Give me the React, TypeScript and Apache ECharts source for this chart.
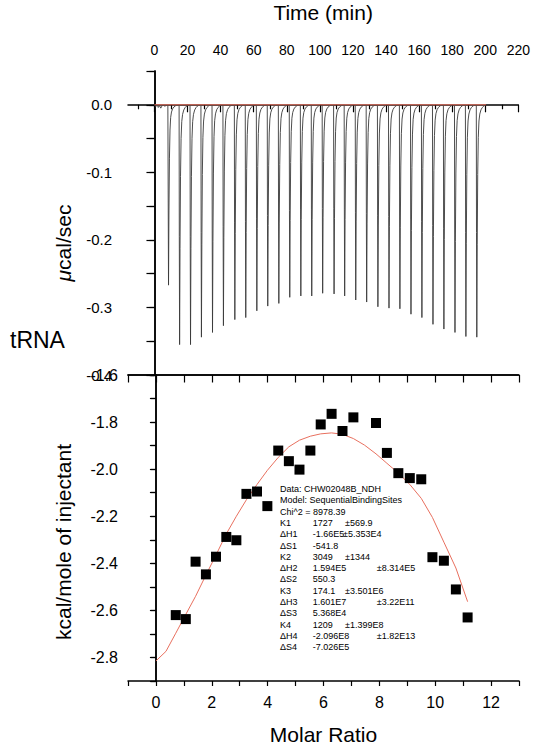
import React, { useEffect, useRef } from 'react';
import * as echarts from 'echarts';

// ---------- data ----------
// Top panel (thermogram): injection times (min) and peak minima (µcal/sec)
const injectionTimes = [
  8.2, 14.9, 21.5, 28.1, 34.8, 41.4, 48.3, 54.9, 61.6, 68.2, 74.9, 81.5, 88.2, 94.8, 101.4,
  108.3, 114.7, 121.4, 128.0, 134.8, 141.5, 148.1, 154.8, 161.4, 168.1, 174.7, 181.4, 188.0, 194.6,
];
const peakDepths = [
  -0.267, -0.355, -0.355, -0.344, -0.337, -0.327, -0.318, -0.315, -0.305, -0.298, -0.294, -0.285,
  -0.283, -0.283, -0.279, -0.28, -0.283, -0.289, -0.292, -0.299, -0.301, -0.302, -0.31, -0.315,
  -0.325, -0.332, -0.337, -0.343, -0.344,
];
// shape of one injection peak: minutes after injection, fraction of peak depth
const peakShapeDt = [0, 0.12, 0.3, 0.55, 0.85, 1.2, 1.6, 2.1, 2.8, 3.6, 4.6, 5.8];
const peakShapeFrac = [0, 0.55, 1, 0.6, 0.3, 0.14, 0.07, 0.04, 0.022, 0.012, 0.005, 0];
// baseline noise before the first injection
const preInjectionTrace: [number, number][] = [
  [0, 0], [0.8, -0.003], [1.5, 0.001], [2.3, -0.004], [3.0, -0.001], [3.8, -0.005],
  [4.5, -0.002], [5.3, 0.0], [6.2, -0.002], [7.2, -0.001], [8.1, 0],
];
const traceEnd: [number, number] = [200.5, 0];
const baselineFit: [number, number][] = [[0, 0], [200.5, 0]];
const timeTickLabels = [0, 20, 40, 60, 80, 100, 120, 140, 160, 180, 200, 220];
const timeMinorTicks = [-10, 10, 30, 50, 70, 90, 110, 130, 150, 170, 190, 210];

// Bottom panel: integrated heats
const molarRatio = [
  0.71, 1.07, 1.42, 1.79, 2.15, 2.52, 2.88, 3.24, 3.62, 3.99, 4.38, 4.76, 5.14, 5.53, 5.9, 6.29,
  6.68, 7.07, 7.88, 8.27, 8.68, 9.09, 9.5, 9.9, 10.31, 10.74, 11.16,
];
const heat = [
  -2.62, -2.637, -2.393, -2.447, -2.372, -2.288, -2.302, -2.105, -2.095, -2.157, -1.921, -1.966,
  -2.002, -1.921, -1.81, -1.765, -1.838, -1.78, -1.804, -1.931, -2.017, -2.038, -2.043, -2.374,
  -2.389, -2.511, -2.63,
];
const fitMolar = [
  0, 0.36, 0.71, 1.07, 1.42, 1.79, 2.15, 2.52, 2.88, 3.24, 3.62, 3.99, 4.38, 4.76, 5.14, 5.53, 5.9,
  6.29, 6.68, 7.07, 7.47, 7.88, 8.27, 8.68, 9.09, 9.5, 9.9, 10.31, 10.74, 11.16,
];
const fitHeat = [
  -2.815, -2.774, -2.697, -2.617, -2.54, -2.45, -2.365, -2.275, -2.2, -2.13, -2.065, -2.005,
  -1.95, -1.905, -1.877, -1.86, -1.85, -1.846, -1.852, -1.87, -1.898, -1.935, -1.975, -2.017,
  -2.065, -2.124, -2.205, -2.31, -2.42, -2.563,
];

// Fit report
const reportHeader = ['Data: CHW02048B_NDH', 'Model: SequentialBindingSites', 'Chi^2 = 8978.39'];
const paramNames = ['K1', 'ΔH1', 'ΔS1', 'K2', 'ΔH2', 'ΔS2', 'K3', 'ΔH3', 'ΔS3', 'K4', 'ΔH4', 'ΔS4'];
const paramValues = [
  '1727', '-1.66E5', '-541.8', '3049', '1.594E5', '550.3', '174.1', '1.601E7', '5.368E4', '1209',
  '-2.096E8', '-7.026E5',
];
const paramErrors = [
  '±569.9', '±5.353E4', '', '±1344', '±8.314E5', '', '±3.501E6', '±3.22E11', '', '±1.399E8',
  '±1.82E13', '',
];

// ---------- layout ----------
const FONT = "'Liberation Sans', Arial, Helvetica, sans-serif";
const L = 128;
const R = 519;
const T0 = 71;
const MID = 375;
const B = 681;
const RED = '#e8705f';
const errColX = [345, 343, 345, 345, 376.7, 345, 345, 376.7, 345, 345, 376.7, 345];

function buildOption(): any {
  const thermo: number[][] = preInjectionTrace.map((p) => [p[0], p[1]]);
  injectionTimes.forEach((t, i) => {
    peakShapeDt.forEach((dt, j) => thermo.push([t + dt, peakDepths[i] * peakShapeFrac[j]]));
  });
  thermo.push([traceEnd[0], traceEnd[1]]);

  const scatter = molarRatio.map((m, i) => [m, heat[i]]);
  const fit = fitMolar.map((m, i) => [m, fitHeat[i]]);

  const axisLine = { show: true, lineStyle: { color: '#000', width: 1.5 } };
  const tickStyle = { color: '#000', width: 1.2 };
  const rs = { fontSize: 9, fontFamily: FONT, fill: '#000', verticalAlign: 'middle' };

  const graphics: any[] = [
    {
      type: 'text', x: 10, y: 340,
      style: { text: 'tRNA', font: `23px ${FONT}`, fill: '#000', align: 'left', verticalAlign: 'middle' },
    },
    {
      type: 'text', x: 63, y: 243, rotation: Math.PI / 2,
      style: {
        text: '{m|μ}cal/sec', fontSize: 21, fontFamily: FONT, fill: '#000', align: 'center', verticalAlign: 'middle',
        rich: { m: { fontStyle: 'italic', fontSize: 21, fontFamily: FONT, fill: '#000' } },
      },
    },
    {
      type: 'text', x: 63, y: 542, rotation: Math.PI / 2,
      style: { text: 'kcal/mole of injectant', font: `21px ${FONT}`, fill: '#000', align: 'center', verticalAlign: 'middle' },
    },
  ];
  const lineH = 11.3;
  const y0 = 489;
  reportHeader.forEach((s, i) => {
    graphics.push({ type: 'text', x: 280, y: y0 + i * lineH, style: { ...rs, text: s } });
  });
  paramNames.forEach((n, i) => {
    const y = y0 + (i + 3) * lineH;
    graphics.push({ type: 'text', x: 280, y, style: { ...rs, text: n } });
    graphics.push({ type: 'text', x: 312.7, y, style: { ...rs, text: paramValues[i] } });
    if (paramErrors[i]) {
      graphics.push({ type: 'text', x: errColX[i], y, style: { ...rs, text: paramErrors[i] } });
    }
  });

  return {
    animation: false,
    backgroundColor: '#fff',
    grid: [
      { left: L, top: T0, width: R - L, height: MID - T0 },
      { left: L, top: MID, width: R - L, height: B - MID },
    ],
    xAxis: [
      {
        type: 'value', gridIndex: 0, position: 'top', min: -16, max: 220,
        axisLine,
        axisTick: { show: true, inside: true, length: 7.5, customValues: timeTickLabels, lineStyle: tickStyle },
        axisLabel: { show: true, customValues: timeTickLabels, fontSize: 14, fontFamily: FONT, color: '#000', margin: 14 },
        splitLine: { show: false },
        name: 'Time (min)', nameLocation: 'middle', nameGap: 48,
        nameTextStyle: { fontSize: 21, fontFamily: FONT, color: '#000' },
      },
      {
        type: 'value', gridIndex: 0, position: 'top', min: -16, max: 220,
        axisLine: { show: false },
        axisTick: { show: true, inside: true, length: 4.5, customValues: timeMinorTicks, lineStyle: tickStyle },
        axisLabel: { show: false },
        splitLine: { show: false },
      },
      {
        type: 'value', gridIndex: 0, position: 'bottom', min: -16, max: 220,
        axisLine, axisTick: { show: false }, axisLabel: { show: false }, splitLine: { show: false },
      },
      {
        type: 'value', gridIndex: 1, position: 'bottom', min: -1, max: 13, interval: 1,
        axisLine,
        axisTick: { show: true, inside: false, length: 5, lineStyle: tickStyle },
        axisLabel: {
          show: true, fontSize: 16, fontFamily: FONT, color: '#000', margin: 13, showMinLabel: true, showMaxLabel: true,
          formatter: (v: number) => {
            const r = Math.round(v);
            return r >= 0 && r <= 12 && r % 2 === 0 ? String(r) : '';
          },
        },
        splitLine: { show: false },
        name: 'Molar Ratio', nameLocation: 'middle', nameGap: 43,
        nameTextStyle: { fontSize: 21, fontFamily: FONT, color: '#000' },
      },
      {
        type: 'value', gridIndex: 1, position: 'top', min: -1, max: 13, interval: 1,
        axisLine,
        axisTick: { show: true, inside: true, length: 7.5, lineStyle: tickStyle },
        axisLabel: { show: false }, splitLine: { show: false },
      },
    ],
    yAxis: [
      {
        type: 'value', gridIndex: 0, position: 'left', min: -0.4, max: 0.05, interval: 0.05,
        axisLine,
        axisTick: { show: true, inside: false, length: 5, lineStyle: tickStyle },
        axisLabel: {
          show: true, fontSize: 15, fontFamily: FONT, color: '#000', margin: 16, showMinLabel: true, showMaxLabel: true,
          formatter: (v: number) => {
            const r = Math.round(v * 20);
            return r % 2 === 0 ? (r / 20).toFixed(1).replace('-0.0', '0.0') : '';
          },
        },
        splitLine: { show: false },
      },
      {
        type: 'value', gridIndex: 0, position: 'right', min: -0.4, max: 0.05, interval: 0.05,
        axisLine,
        axisTick: { show: true, inside: true, length: 8, lineStyle: tickStyle },
        axisLabel: { show: false }, splitLine: { show: false },
      },
      {
        type: 'value', gridIndex: 1, position: 'left', min: -2.9, max: -1.6, interval: 0.1,
        axisLine,
        axisTick: { show: true, inside: false, length: 5, lineStyle: tickStyle },
        axisLabel: {
          show: true, fontSize: 16, fontFamily: FONT, color: '#000', margin: 10, showMinLabel: true, showMaxLabel: true,
          formatter: (v: number) => {
            const r = Math.round(v * 10);
            return r % 2 === 0 ? (r / 10).toFixed(1) : '';
          },
        },
        splitLine: { show: false },
      },
      {
        type: 'value', gridIndex: 1, position: 'right', min: -2.9, max: -1.6, interval: 0.1,
        axisLine,
        axisTick: { show: true, inside: true, length: 6, lineStyle: tickStyle },
        axisLabel: { show: false }, splitLine: { show: false },
      },
    ],
    series: [
      {
        type: 'line', xAxisIndex: 0, yAxisIndex: 0, data: thermo, showSymbol: false, symbol: 'none',
        lineStyle: { color: '#3a3a3a', width: 0.9 }, z: 2,
      },
      {
        type: 'line', xAxisIndex: 0, yAxisIndex: 0, data: baselineFit, showSymbol: false, symbol: 'none',
        lineStyle: { color: RED, width: 1 }, z: 3,
      },
      {
        type: 'line', xAxisIndex: 3, yAxisIndex: 2, data: fit, showSymbol: false, symbol: 'none',
        lineStyle: { color: RED, width: 1 }, z: 2,
      },
      {
        type: 'scatter', xAxisIndex: 3, yAxisIndex: 2, data: scatter, symbol: 'rect', symbolSize: 10,
        itemStyle: { color: '#000', opacity: 1 }, z: 3,
      },
    ],
    graphic: graphics,
  };
}

export default function App() {
  const ref = useRef<HTMLDivElement>(null);
  useEffect(() => {
    if (!ref.current) return;
    const chart = echarts.init(ref.current, undefined, { renderer: 'svg' });
    chart.setOption(buildOption());
    return () => chart.dispose();
  }, []);
  return (
    <div
      ref={ref}
      style={{ position: 'absolute', left: 0, top: 0, width: 533, height: 749, background: '#fff' }}
    />
  );
}
